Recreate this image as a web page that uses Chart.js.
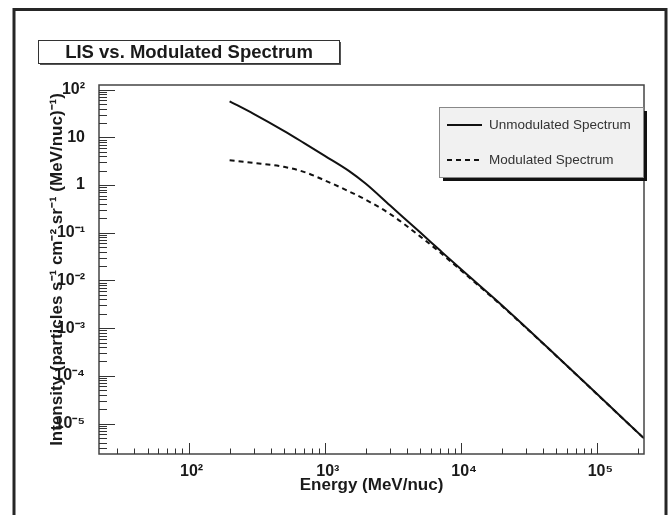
<!DOCTYPE html>
<html>
<head>
<meta charset="utf-8">
<script src="https://cdn.jsdelivr.net/npm/chart.js@4.4.1/dist/chart.umd.min.js"></script>
<style>
  body { margin: 0; background: #fff; }
  #wrap { width: 670px; height: 515px; }
</style>
</head>
<body>
<div id="wrap"><canvas id="spectrumChart" width="670" height="515"></canvas></div>
<script>
// values (energy in MeV/nuc)
const energy      = [200, 300, 500, 700, 1000, 1500, 2000, 3000, 5000, 7000, 10000, 20000, 50000, 100000, 220000];
const unmodulated = [56.9, 31.1, 13.7, 7.67, 4.09, 1.98, 1.06, 0.375, 0.102, 0.0427, 0.0171, 3.0e-3, 2.65e-4, 4.1e-5, 4.90e-6];
const modulated   = [3.30, 2.92, 2.41, 1.89, 1.25, 0.738, 0.490, 0.249, 0.084, 0.0388, 0.0162, 2.9e-3, 2.62e-4, 4.06e-5, 4.88e-6];

const seriesNames = ['Unmodulated Spectrum', 'Modulated Spectrum'];
const chartTitle = 'LIS vs. Modulated Spectrum';

const xTickValues = [1e2, 1e3, 1e4, 1e5];
const xTickLabels = ['10²', '10³', '10⁴', '10⁵'];
const yTickValues = [1e-5, 1e-4, 1e-3, 1e-2, 1e-1, 1, 10, 1e2];
const yTickLabels = ['10⁻⁵', '10⁻⁴', '10⁻³', '10⁻²', '10⁻¹', '1', '10', '10²'];

const FONT = '"Liberation Sans", Arial, Helvetica, sans-serif';

// all k*10^n values inside [min, max], k = 1 marks a decade
function logTicks(min, max) {
    const out = [];
    for (let e = Math.floor(Math.log10(min)); e <= Math.ceil(Math.log10(max)); e++) {
        for (let k = 1; k <= 9; k++) {
            const v = k * Math.pow(10, e);
            if (v >= min && v <= max) out.push({ v: v, major: k === 1 });
        }
    }
    return out;
}

// ROOT-like decorations: pad frame, plot frame, inner ticks, title box, legend box
const rootStyle = {
    id: 'rootStyle',
    beforeDraw(chart) {
        const ctx = chart.ctx;
        ctx.save();
        ctx.fillStyle = '#fff';
        ctx.fillRect(0, 0, chart.width, chart.height);
        ctx.restore();
    },
    afterDraw(chart) {
        const ctx = chart.ctx;
        const area = chart.chartArea;
        const xs = chart.scales.x, ys = chart.scales.y;
        ctx.save();

        // outer pad frame
        ctx.strokeStyle = '#262626';
        ctx.lineWidth = 3;
        ctx.strokeRect(14, 9.5, 652, 530);

        // plot frame
        ctx.strokeStyle = '#444';
        ctx.lineWidth = 1.5;
        ctx.strokeRect(area.left, area.top, area.right - area.left, area.bottom - area.top);

        // ticks pointing into the plot
        ctx.lineWidth = 1;
        ctx.strokeStyle = '#333';
        ctx.beginPath();
        logTicks(ys.min, ys.max).forEach(t => {
            const p = Math.round(ys.getPixelForValue(t.v)) + 0.5;
            ctx.moveTo(area.left, p);
            ctx.lineTo(area.left + (t.major ? 16 : 8), p);
        });
        logTicks(xs.min, xs.max).forEach(t => {
            const p = Math.round(xs.getPixelForValue(t.v)) + 0.5;
            ctx.moveTo(p, area.bottom);
            ctx.lineTo(p, area.bottom - (t.major ? 11 : 5.5));
        });
        ctx.stroke();

        // title box
        ctx.fillStyle = '#555';
        ctx.fillRect(40, 63, 301, 2);
        ctx.fillRect(339, 42, 2, 23);
        ctx.fillStyle = '#fff';
        ctx.fillRect(38, 40, 301, 23);
        ctx.strokeStyle = '#333';
        ctx.lineWidth = 1;
        ctx.strokeRect(38.5, 40.5, 301, 23);
        ctx.fillStyle = '#1a1a1a';
        ctx.font = 'bold 18.5px ' + FONT;
        ctx.textAlign = 'center';
        ctx.textBaseline = 'middle';
        ctx.fillText(chartTitle, 189, 52.5);

        // legend box with drop shadow
        const lg = { x: 439, y: 107, w: 204, h: 70 };
        ctx.fillStyle = '#111';
        ctx.fillRect(lg.x + 4, lg.y + 4, lg.w, lg.h);
        ctx.fillStyle = '#f1f1f1';
        ctx.fillRect(lg.x, lg.y, lg.w, lg.h);
        ctx.strokeStyle = '#888';
        ctx.strokeRect(lg.x + 0.5, lg.y + 0.5, lg.w, lg.h);
        chart.data.datasets.forEach((ds, i) => {
            const y = lg.y + 18 + i * 35;
            ctx.beginPath();
            ctx.setLineDash(ds.borderDash || []);
            ctx.strokeStyle = ds.borderColor;
            ctx.lineWidth = 2;
            ctx.moveTo(lg.x + 8, y);
            ctx.lineTo(lg.x + 43, y);
            ctx.stroke();
            ctx.setLineDash([]);
            ctx.fillStyle = '#333';
            ctx.font = '13.5px ' + FONT;
            ctx.textAlign = 'left';
            ctx.textBaseline = 'middle';
            ctx.fillText(ds.label, lg.x + 50, y);
        });
        ctx.restore();
    }
};

const ctx = document.getElementById('spectrumChart').getContext('2d');
new Chart(ctx, {
    type: 'line',
    data: {
        datasets: [{
            label: seriesNames[0],
            data: energy.map((e, i) => ({ x: e, y: unmodulated[i] })),
            borderColor: '#111',
            borderWidth: 2,
            pointRadius: 0,
            cubicInterpolationMode: 'monotone',
            fill: false
        }, {
            label: seriesNames[1],
            data: energy.map((e, i) => ({ x: e, y: modulated[i] })),
            borderColor: '#111',
            borderWidth: 2,
            borderDash: [5, 4],
            pointRadius: 0,
            cubicInterpolationMode: 'monotone',
            fill: false
        }]
    },
    options: {
        responsive: false,
        animation: false,
        layout: { padding: { left: 0, top: 85, right: 26, bottom: 0 } },
        plugins: {
            legend: { display: false },
            title: { display: false },
            tooltip: { enabled: false }
        },
        scales: {
            x: {
                type: 'logarithmic',
                min: 22,
                max: 2.2e5,
                grid: { display: false, drawTicks: false },
                border: { display: false },
                afterBuildTicks: s => { s.ticks = xTickValues.map(v => ({ value: v })); },
                afterFit: s => { s.height = 61; },
                ticks: {
                    autoSkip: false,
                    maxRotation: 0,
                    padding: 8,
                    labelOffset: 3,
                    color: '#1a1a1a',
                    font: { family: FONT, size: 16, weight: 'bold' },
                    callback: (v, i) => xTickLabels[i]
                },
                title: {
                    display: true,
                    text: 'Energy (MeV/nuc)',
                    color: '#1a1a1a',
                    font: { family: FONT, size: 17, weight: 'bold' },
                    padding: { top: 0, bottom: 19 }
                }
            },
            y: {
                type: 'logarithmic',
                min: 2.3e-6,
                max: 125,
                grid: { display: false, drawTicks: false },
                border: { display: false },
                afterBuildTicks: s => { s.ticks = yTickValues.map(v => ({ value: v })); },
                afterFit: s => { s.width = 99; },
                ticks: {
                    autoSkip: false,
                    padding: 14,
                    color: '#1a1a1a',
                    font: { family: FONT, size: 16, weight: 'bold' },
                    callback: (v, i) => yTickLabels[i]
                },
                title: {
                    display: true,
                    text: 'Intensity (particles s⁻¹ cm⁻² sr⁻¹ (MeV/nuc)⁻¹)',
                    color: '#1a1a1a',
                    font: { family: FONT, size: 17, weight: 'bold' },
                    padding: { top: 47, bottom: 0 }
                }
            }
        }
    },
    plugins: [rootStyle]
});
</script>
</body>
</html>
